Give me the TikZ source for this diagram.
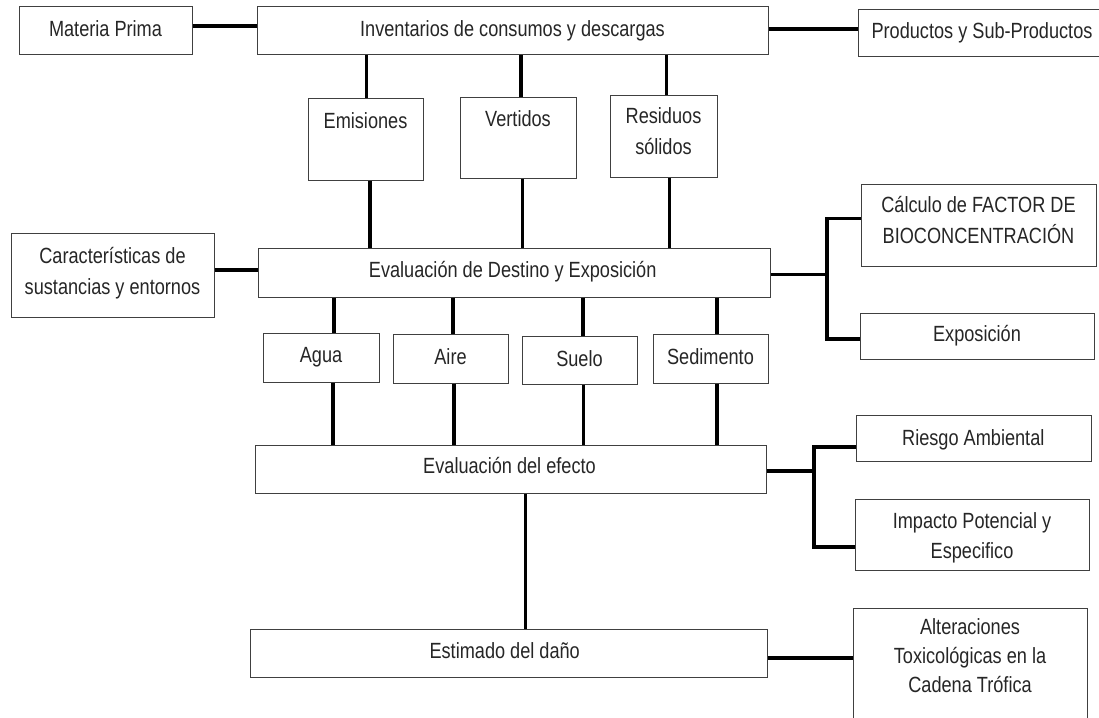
\documentclass[tikz,border=0pt]{standalone}
\usepackage{fontspec}
\setmainfont{Liberation Sans}[FakeStretch=0.825]
\begin{document}
\begin{tikzpicture}[x=1pt,y=-1pt,
  box/.style={draw=black!75, line width=1pt, fill=white, rectangle, inner sep=0pt},
  txt/.style={font=\fontsize{22}{31}\selectfont, align=center, inner sep=0pt, text=black!85},
  link/.style={line width=3.6pt, black}]
\useasboundingbox (0,0) rectangle (1099,717);
\clip (0,0) rectangle (1099,717);

% boxes
\node[box, minimum width=173pt, minimum height=48pt] (mp)   at (105.5,31)  {};
\node[box, minimum width=511pt, minimum height=48pt] (inv)  at (512.5,31)  {};
\node[box, minimum width=248pt, minimum height=47pt] (prod) at (982,33.5)  {};
\node[box, minimum width=115pt, minimum height=82pt] (emi)  at (365.5,139) {};
\node[box, minimum width=116pt, minimum height=81pt] (ver)  at (518,137.5) {};
\node[box, minimum width=107pt, minimum height=82pt] (res)  at (663.5,136) {};
\node[box, minimum width=203pt, minimum height=84pt] (car)  at (112.5,275) {};
\node[box, minimum width=512pt, minimum height=49pt] (eds)  at (514,272.5) {};
\node[box, minimum width=235pt, minimum height=82pt] (cal)  at (978.5,225) {};
\node[box, minimum width=234pt, minimum height=46pt] (exp)  at (977,336)   {};
\node[box, minimum width=116pt, minimum height=49pt] (agua) at (321,357.5) {};
\node[box, minimum width=115pt, minimum height=49pt] (aire) at (450.5,358.5) {};
\node[box, minimum width=115pt, minimum height=48pt] (suelo) at (579.5,360) {};
\node[box, minimum width=115pt, minimum height=49pt] (sed)  at (710.5,358.5) {};
\node[box, minimum width=511pt, minimum height=48pt] (efe)  at (510.5,469) {};
\node[box, minimum width=235pt, minimum height=46pt] (rie)  at (973.5,438) {};
\node[box, minimum width=234pt, minimum height=71pt] (imp)  at (972,534.5) {};
\node[box, minimum width=517pt, minimum height=48pt] (est)  at (508.5,653) {};
\node[box, minimum width=234pt, minimum height=122pt] (alt) at (970,669)   {};

% labels
\node[txt, anchor=base] (mpT)   at (105.5,36.7) {Materia Prima};
\node[txt, anchor=base] (invT)  at (512.5,36.5) {Inventarios de consumos y descargas};
\node[txt, anchor=base] (prodT) at (982,38.5)   {Productos y Sub-Productos};
\node[txt, anchor=base] (emiT)  at (365.5,128.3) {Emisiones};
\node[txt, anchor=base] (verT)  at (518,126.7)  {Vertidos};
\node[txt]              (resT)  at (663.5,131)  {Residuos\\sólidos};
\node[txt]              (carT)  at (112.5,273.2) {Características de\\sustancias y entornos};
\node[txt, anchor=base] (edsT)  at (512.7,277.3) {Evaluación de Destino y Exposición};
\node[txt]              (calT)  at (978.5,220.4) {Cálculo de FACTOR DE\\BIOCONCENTRACIÓN};
\node[txt, anchor=base] (expT)  at (977,341.7)  {Exposición};
\node[txt, anchor=base] (aguaT) at (321,362.7)  {Agua};
\node[txt, anchor=base] (aireT) at (450.5,364.3) {Aire};
\node[txt, anchor=base] (sueloT) at (579.5,366) {Suelo};
\node[txt, anchor=base] (sedT)  at (710.5,364.3) {Sedimento};
\node[txt, anchor=base] (efeT)  at (509.5,473.3) {Evaluación del efecto};
\node[txt, anchor=base] (rieT)  at (973.3,445)  {Riesgo Ambiental};
\node[txt, font=\fontsize{22}{30}\selectfont] (impT) at (972,537.4) {Impacto Potencial y\\Especifico};
\node[txt, anchor=base] (estT)  at (504.7,658.3) {Estimado del daño};
\node[txt, font=\fontsize{22}{29}\selectfont] (altT) at (970,655.6) {Alteraciones\\Toxicológicas en la\\Cadena Trófica};

% junction columns of the two branching connectors
\coordinate (j1) at (827,0);
\coordinate (j2) at (814,0);

% top row
\draw[link] ([yshift=5pt]mp.east) -- ([yshift=5pt]inv.west);
\draw[link] ([yshift=2pt]inv.east) -- ([yshift=2pt]inv.east -| prod.west);
\draw[link] ([xshift=1pt]emi.north |- inv.south) -- ([xshift=1pt]emi.north);
\draw[link] ([xshift=3pt]ver.north |- inv.south) -- ([xshift=3pt]ver.north);
\draw[link] ([xshift=3pt]res.north |- inv.south) -- ([xshift=3pt]res.north);

% into the fate and exposure stage
\draw[link] ([xshift=4.5pt]emi.south) -- ([xshift=4.5pt]emi.south |- eds.north);
\draw[link] ([xshift=4.5pt]ver.south) -- ([xshift=4.5pt]ver.south |- eds.north);
\draw[link] ([xshift=6pt]res.south) -- ([xshift=6pt]res.south |- eds.north);
\draw[link] ([yshift=2.5pt]eds.west -| car.east) -- ([yshift=2.5pt]eds.west);

% compartments
\draw[link] ([xshift=13pt]agua.north |- eds.south) -- ([xshift=13pt]agua.north);
\draw[link] ([xshift=2.2pt]aire.north |- eds.south) -- ([xshift=2.2pt]aire.north);
\draw[link] ([xshift=3.2pt]suelo.north |- eds.south) -- ([xshift=3.2pt]suelo.north);
\draw[link] ([xshift=6.2pt]sed.north |- eds.south) -- ([xshift=6.2pt]sed.north);
\draw[link] ([xshift=11.7pt]agua.south) -- ([xshift=11.7pt]agua.south |- efe.north);
\draw[link] ([xshift=3.5pt]aire.south) -- ([xshift=3.5pt]aire.south |- efe.north);
\draw[link] ([xshift=3.8pt]suelo.south) -- ([xshift=3.8pt]suelo.south |- efe.north);
\draw[link] ([xshift=6.2pt]sed.south) -- ([xshift=6.2pt]sed.south |- efe.north);

% effect to damage estimate
\draw[link] ([xshift=15pt]efe.south) -- ([xshift=15pt]efe.south |- est.north);

% right-hand branches
\draw[link] ([yshift=-1.8pt]eds.east) -- ([yshift=-1.8pt]eds.east -| j1);
\draw[link] ([yshift=6.7pt]cal.west) -- ([yshift=6.7pt]cal.west -| j1)
  -- ([yshift=-3pt]exp.west -| j1) -- ([yshift=-3pt]exp.west);
\draw[link] ([yshift=-2pt]efe.east) -- ([yshift=-2pt]efe.east -| j2);
\draw[link] ([yshift=-8.7pt]rie.west) -- ([yshift=-8.7pt]rie.west -| j2)
  -- ([yshift=-12.2pt]imp.west -| j2) -- ([yshift=-12.2pt]imp.west);
\draw[link] ([yshift=-5pt]est.east) -- ([yshift=-5pt]est.east -| alt.west);
\end{tikzpicture}
\end{document}
